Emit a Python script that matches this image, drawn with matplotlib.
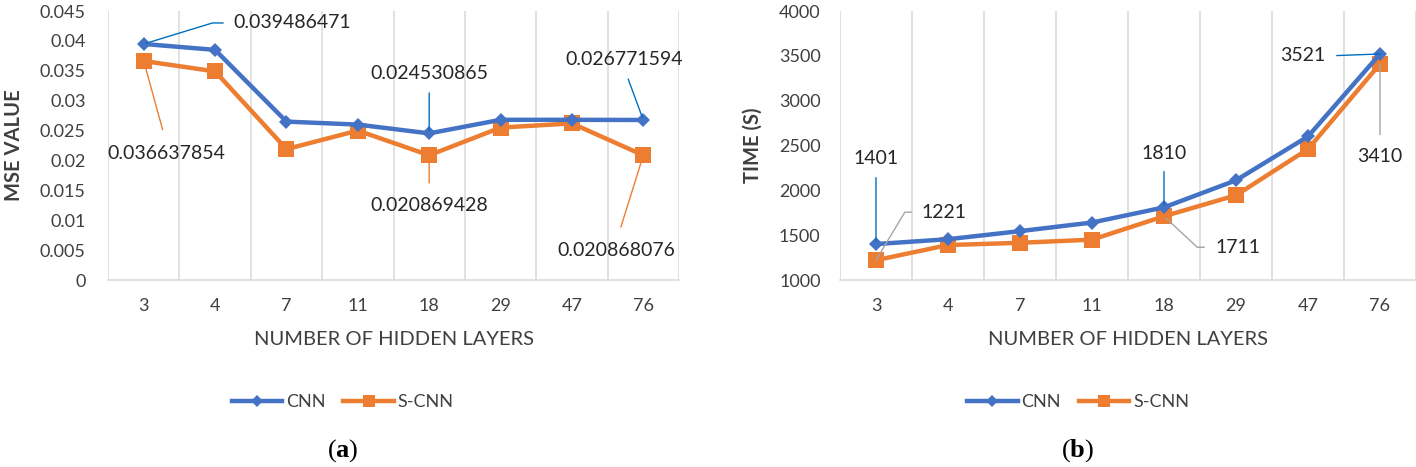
import numpy as np
import matplotlib.pyplot as plt
from matplotlib.ticker import MultipleLocator, FuncFormatter

plt.rcParams['font.family'] = ['Lato', 'DejaVu Sans']
plt.rcParams['mathtext.fontset'] = 'custom'
plt.rcParams['mathtext.rm'] = 'Liberation Serif'
plt.rcParams['mathtext.bf'] = 'Liberation Serif:bold'

layers = ['3', '4', '7', '11', '18', '29', '47', '76']

mse_cnn = [0.039486471, 0.0385, 0.0265, 0.0260, 0.024530865, 0.0268, 0.0268, 0.026771594]
mse_scnn = [0.036637854, 0.0349, 0.0219, 0.0250, 0.020869428, 0.0255, 0.0262, 0.020868076]

time_cnn = [1401, 1455, 1545, 1641, 1810, 2112, 2601, 3521]
time_scnn = [1221, 1390, 1415, 1450, 1711, 1945, 2460, 3410]

blue = '#4472C4'
orange = '#ED7D31'
lead_blue = '#0070C0'
lead_gray = '#A5A5A5'
grid_col = '#D9D9D9'
txt_col = '#404040'

# labelled points: (series, index, dx, dy [px], relpos, bend angle, shrinkA, shrinkB, colour)
mse_labels = [
    ('cnn', 0, 148, 21, (0, 0.5), 17, 5, 2, lead_blue),
    ('scnn', 0, 23, -92, (0.5, 1), None, 9, 5, orange),
    ('cnn', 4, 0, 60, (0.5, 0), None, 6, 2, lead_blue),
    ('scnn', 4, 0, -50, (0.5, 1), None, 8, 5, orange),
    ('cnn', 7, -19, 60, (0.5, 0), None, 6, 2, lead_blue),
    ('scnn', 7, -27, -95, (0.5, 1), None, 9, 6, orange),
]
time_labels = [
    ('cnn', 0, 0, 86, (0.5, 0), None, 6, 2, lead_blue),
    ('scnn', 0, 68, 48, (0, 0.5), 59, 5, 0, lead_gray),
    ('cnn', 4, 0, 54, (0.5, 0), None, 5, 2, lead_blue),
    ('scnn', 4, 74, -31, (0, 0.5), -43, 6, 2, lead_gray),
    ('cnn', 7, -77, -2, (1, 0.5), None, 6, 0, lead_blue),
    ('scnn', 7, 0, -93, (0.5, 1), None, 8, 0, lead_gray),
]

fig = plt.figure(figsize=(14.16, 4.67), dpi=100)
ax1 = fig.add_axes([0.0763, 0.4004, 0.4032, 0.576])
ax2 = fig.add_axes([0.5932, 0.4004, 0.4068, 0.576])

x = np.arange(len(layers))


def setup(ax, cnn, scnn, labels, fmt, ylabel, ypad, ylab_x):
    ax.plot(x, cnn, color=blue, lw=3.2, marker='D', ms=7.6, mew=0, label='CNN', zorder=4)
    ax.plot(x, scnn, color=orange, lw=3.2, marker='s', ms=12, mew=0, label='S-CNN', zorder=3)
    ax.set_xlim(-0.5, len(layers) - 0.5)
    ax.set_xticks(x)
    ax.set_xticklabels(layers)
    ax.set_xticks(np.arange(-0.5, len(layers)), minor=True)
    ax.grid(which='minor', axis='x', color=grid_col, lw=1.1)
    ax.tick_params(which='both', length=0, labelsize=13, labelcolor=txt_col)
    ax.tick_params(axis='x', pad=13)
    ax.tick_params(axis='y', pad=ypad)
    for s in ['top', 'left', 'right']:
        ax.spines[s].set_visible(False)
    ax.spines['bottom'].set_color(grid_col)
    ax.spines['bottom'].set_linewidth(1.1)
    ax.set_xlabel('NUMBER OF HIDDEN LAYERS', fontsize=14.5, color=txt_col)
    ax.xaxis.set_label_coords(0.5, -0.19)
    ax.set_ylabel(ylabel, fontsize=14.5, fontweight='bold', color=txt_col)
    ax.yaxis.set_label_coords(ylab_x, 0.5)
    series = {'cnn': cnn, 'scnn': scnn}
    for key, i, dx, dy, rp, ang, sa, sb, col in labels:
        v = series[key][i]
        if ang is None:
            conn = 'arc3,rad=0'
        else:
            conn = f'angle,angleA=0,angleB={ang},rad=0'
        ax.annotate(fmt(v), xy=(i, v), xytext=(dx, dy), textcoords='offset pixels',
                    ha='center', va='center', fontsize=14, color='#262626',
                    arrowprops=dict(arrowstyle='-', color=col, lw=1.0, relpos=rp,
                                    connectionstyle=conn, shrinkA=sa, shrinkB=sb),
                    zorder=5)


setup(ax1, mse_cnn, mse_scnn, mse_labels, lambda v: f'{v:.9f}', 'MSE VALUE', 16, -0.147)
ax1.set_ylim(0, 0.045)
ax1.yaxis.set_major_locator(MultipleLocator(0.005))
ax1.yaxis.set_major_formatter(FuncFormatter(lambda v, p: f'{round(v, 3):g}'))

setup(ax2, time_cnn, time_scnn, time_labels, lambda v: f'{v:d}', 'TIME (S)', 14, -0.134)
ax2.set_ylim(1000, 4000)
ax2.yaxis.set_major_locator(MultipleLocator(500))

for ax, cx, cap in [(ax1, 0.2419, 'a'), (ax2, 0.7613, 'b')]:
    h, l = ax.get_legend_handles_labels()
    leg = ax.legend(h, l, loc='center', bbox_to_anchor=(cx, 0.139), bbox_transform=fig.transFigure,
                    ncol=2, frameon=False, fontsize=13, handlelength=2.8, handletextpad=0.2,
                    columnspacing=1.0, markerscale=0.75)
    for t in leg.get_texts():
        t.set_color(txt_col)
    fig.text(cx, 0.036, '($\\mathbf{' + cap + '}$)', ha='center', va='center',
             fontsize=19, family='Liberation Serif', color='black')

plt.savefig('out.png', dpi=100)
